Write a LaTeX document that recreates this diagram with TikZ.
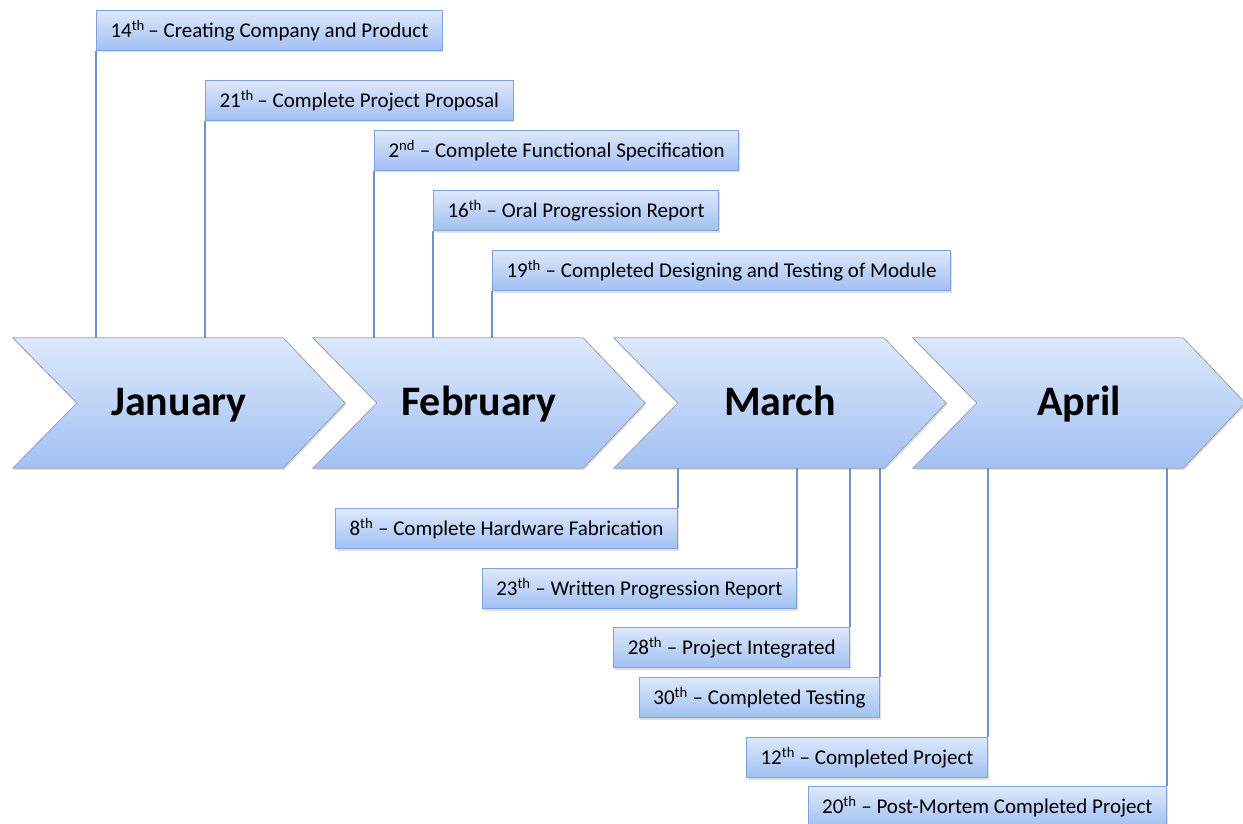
\documentclass[tikz,border=0pt]{standalone}
\usepackage{fontspec}
\setmainfont{Carlito}
\usepackage{xcolor}
\usepackage{tikz}
\usetikzlibrary{positioning,calc,backgrounds,shadows}
\definecolor{cShadeTop}{HTML}{DDE8FB}
\definecolor{cShadeBot}{HTML}{A2C0F3}
\definecolor{cEdge}{HTML}{7EA2DA}
\definecolor{cChevEdge}{HTML}{9AA3AF}
\definecolor{cLink}{HTML}{6E92CC}
\newcommand{\ord}[1]{\textsuperscript{#1}}
\tikzset{
  month/.style ={minimum width=332pt, minimum height=130pt, inner sep=0pt,
                 text height=30pt, text depth=6pt,
                 font=\fontsize{42}{46}\selectfont\bfseries},
  chev/.style  ={draw=cChevEdge, line width=0.8pt, top color=cShadeTop, bottom color=cShadeBot,
                 drop shadow={shadow xshift=1pt, shadow yshift=-2pt, opacity=.25}},
  evbox/.style ={draw=cEdge, line width=1pt, top color=cShadeTop, bottom color=cShadeBot,
                 minimum height=40pt, inner xsep=14pt, font=\fontsize{21}{24}\selectfont,
                 drop shadow={shadow xshift=1pt, shadow yshift=-2pt, opacity=.25}},
  link/.style  ={draw=cLink, line width=1.2pt},
}
\begin{document}
\begin{tikzpicture}[x=1pt,y=-1pt]
    \useasboundingbox (0,0) rectangle (1243,824);
    % months
    \node[month] (jan) at (179,403) {January};
    \node[month] (feb) at (479,403) {February};
    \node[month] (mar) at (780,403) {March};
    \node[month] (apr) at (1079,403) {April};
    \begin{scope}[on background layer]
      \path[chev] (jan.north west) -- ([xshift=-62pt]jan.north east) -- (jan.east) -- ([xshift=-62pt]jan.south east) -- (jan.south west) -- ([xshift=64pt]jan.west) -- cycle;
      \path[chev] (feb.north west) -- ([xshift=-62pt]feb.north east) -- (feb.east) -- ([xshift=-62pt]feb.south east) -- (feb.south west) -- ([xshift=64pt]feb.west) -- cycle;
      \path[chev] (mar.north west) -- ([xshift=-62pt]mar.north east) -- (mar.east) -- ([xshift=-62pt]mar.south east) -- (mar.south west) -- ([xshift=64pt]mar.west) -- cycle;
      \path[chev] (apr.north west) -- ([xshift=-62pt]apr.north east) -- (apr.east) -- ([xshift=-62pt]apr.south east) -- (apr.south west) -- ([xshift=64pt]apr.west) -- cycle;
    \end{scope}
    % milestones above
    \node[evbox, anchor=north west] (e14) at (96,10)  {14\ord{th}\,\textendash\ Creating Company and Product};
    \node[evbox, anchor=north west] (e21) at (205,80) {21\ord{th}\,\textendash\ Complete Project Proposal};
    \node[evbox, anchor=north west] (e02) at (374,130) {2\ord{nd} \textendash\ Complete Functional Specification};
    \node[evbox, anchor=north west] (e16) at (433,190) {16\ord{th} \textendash\ Oral Progression Report};
    \node[evbox, anchor=north west] (e19) at (492,250) {19\ord{th} \textendash\ Completed Designing and Testing of Module};
    % milestones below
    \node[evbox, anchor=north east] (e08) at (678,508)  {8\ord{th} \textendash\ Complete Hardware Fabrication};
    \node[evbox, anchor=north east] (e23) at (797,568)  {23\ord{th} \textendash\ Written Progression Report};
    \node[evbox, anchor=north east] (e28) at (850,627)  {28\ord{th} \textendash\ Project Integrated};
    \node[evbox, anchor=north east] (e30) at (880,677)  {30\ord{th} \textendash\ Completed Testing};
    \node[evbox, anchor=north east] (e12) at (988,737)  {12\ord{th} \textendash\ Completed Project};
    \node[evbox, anchor=north east] (e20) at (1167,786) {20\ord{th} \textendash\ Post-Mortem Completed Project};
    \draw[link] (e14.south west) -- (e14.south west |- jan.north);
    \draw[link] (e21.south west) -- (e21.south west |- jan.north);
    \draw[link] (e02.south west) -- (e02.south west |- feb.north);
    \draw[link] (e16.south west) -- (e16.south west |- feb.north);
    \draw[link] (e19.south west) -- (e19.south west |- feb.north);
    \draw[link] (e08.north east) -- (e08.north east |- mar.south);
    \draw[link] (e23.north east) -- (e23.north east |- mar.south);
    \draw[link] (e28.north east) -- (e28.north east |- mar.south);
    \draw[link] (e30.north east) -- (e30.north east |- mar.south);
    \draw[link] (e12.north east) -- (e12.north east |- apr.south);
    \draw[link] (e20.north east) -- (e20.north east |- apr.south);
  \end{tikzpicture}
\end{document}
